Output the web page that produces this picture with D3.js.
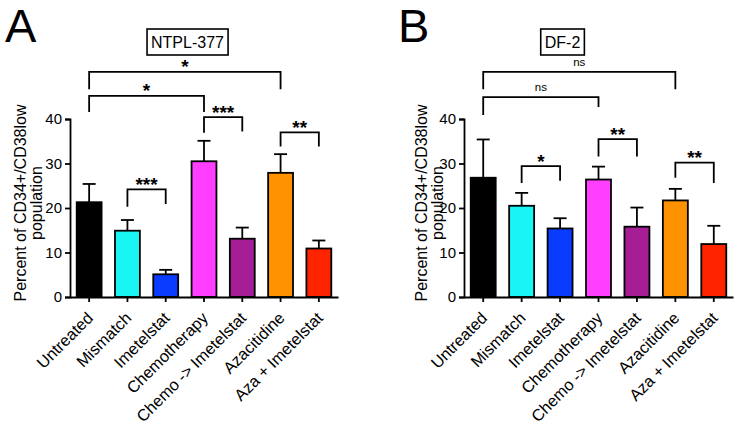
<!DOCTYPE html>
<html>
<head>
<meta charset="utf-8">
<script src="https://cdn.jsdelivr.net/npm/d3@7"></script>
<style>
  html, body { margin: 0; padding: 0; background: #fff; }
  svg { display: block; font-family: "Liberation Sans", Arial, Helvetica, sans-serif; }
</style>
</head>
<body>
<svg id="chart" width="739" height="425"></svg>
<script>
// ---------- data ----------
const categories = ["Untreated", "Mismatch", "Imetelstat", "Chemotherapy", "Chemo -> Imetelstat", "Azacitidine", "Aza + Imetelstat"];
const barColors = ["#000000", "#19F5F5", "#0A3CFF", "#FF3EFF", "#A51E96", "#FF9200", "#FF2400"];
const yTicks = [0, 10, 20, 30, 40];

const titleA = "NTPL-377";
const meanA = [21.3, 14.9, 5.1, 30.5, 13.1, 27.9, 10.9];
const errA  = [4.1, 2.4, 1.0, 4.6, 2.5, 4.2, 1.8];
// comparisons: [from index, to index, label, bracket level, left leg end, right leg end] (data units)
const compA = [
  [0, 5, "*",   50.6, 46.7, 46.7],
  [0, 3, "*",   45.2, 41.6, 41.6],
  [3, 4, "***", 40.4, 36.9, 37.2],
  [5, 6, "**",  37.0, 33.8, 33.8],
  [1, 2, "***", 24.2, 20.3, 20.9]
];

const titleB = "DF-2";
const meanB = [26.8, 20.5, 15.4, 26.4, 15.8, 21.7, 11.9];
const errB  = [8.6, 2.9, 2.3, 2.9, 4.3, 2.6, 4.1];
const compB = [
  [0, 5, "ns",  50.6, 46.7, 46.7],
  [0, 3, "ns",  44.9, 40.9, 42.7],
  [1, 2, "*",   29.4, 25.6, 26.1],
  [3, 4, "**",  35.5, 31.6, 31.6],
  [5, 6, "**",  30.2, 26.8, 25.6]
];

const yLabel1 = "Percent of CD34+/CD38low";
const yLabel2 = "population";

// ---------- drawing ----------
const svg = d3.select("#chart");

function drawPanel(p) {
  const g = svg.append("g");
  const x = d3.scaleBand().domain(categories).range([p.x0, p.x1]).paddingInner(0.35).paddingOuter(0.175);
  const y = d3.scaleLinear().domain([0, 40]).range([297, 119]);
  const data = categories.map((c, i) => ({ c, i, m: p.means[i], e: p.errs[i], col: barColors[i] }));

  // error bars (upper only)
  const eb = g.append("g").attr("stroke", "#000").attr("stroke-width", 1.8).attr("fill", "none");
  data.forEach(d => {
    const cx = x(d.c) + x.bandwidth() / 2;
    eb.append("line").attr("x1", cx).attr("x2", cx).attr("y1", y(d.m)).attr("y2", y(d.m + d.e));
    eb.append("line").attr("x1", cx - 6.5).attr("x2", cx + 6.5).attr("y1", y(d.m + d.e)).attr("y2", y(d.m + d.e));
  });

  // bars
  g.append("g").selectAll("rect").data(data).join("rect")
    .attr("x", d => x(d.c))
    .attr("y", d => y(d.m))
    .attr("width", x.bandwidth())
    .attr("height", d => y(0) - y(d.m))
    .attr("fill", d => d.col)
    .attr("stroke", "#000")
    .attr("stroke-width", 1.8);

  // y axis
  const ya = g.append("g").attr("transform", `translate(${p.x0},0)`)
    .call(d3.axisLeft(y).tickValues(yTicks).tickSize(5).tickPadding(3));
  ya.select(".domain").attr("stroke-width", 1.8);
  ya.selectAll(".tick line").attr("stroke-width", 1.8);
  ya.selectAll(".tick text").attr("font-size", 15).attr("font-family", "Liberation Sans, Arial, sans-serif").attr("fill", "#000");

  // x axis
  const xa = g.append("g").attr("transform", `translate(0,${y(0)})`)
    .call(d3.axisBottom(x).tickSize(5).tickSizeOuter(0));
  xa.select(".domain").attr("stroke-width", 1.8);
  xa.selectAll(".tick line").attr("stroke-width", 1.8);
  xa.selectAll(".tick text")
    .attr("font-size", 16.3)
    .attr("font-family", "Liberation Sans, Arial, sans-serif")
    .attr("fill", "#000")
    .attr("text-anchor", "end")
    .attr("dy", null)
    .attr("y", null)
    .attr("transform", "translate(5,22) rotate(-45)");

  // y label
  const yl = g.append("g").attr("font-size", 16).attr("text-anchor", "middle").attr("fill", "#000");
  yl.append("text").attr("transform", `translate(${p.ylx1},203) rotate(-90)`).text(yLabel1);
  yl.append("text").attr("transform", `translate(${p.ylx2},203) rotate(-90)`).text(yLabel2);

  // comparison brackets
  const bk = g.append("g");
  p.comps.forEach(([a, b, lab, lev, l1, l2]) => {
    const xa1 = x(categories[a]) + x.bandwidth() / 2;
    const xb1 = x(categories[b]) + x.bandwidth() / 2;
    bk.append("path")
      .attr("d", `M${xa1},${y(l1)}V${y(lev)}H${xb1}V${y(l2)}`)
      .attr("fill", "none").attr("stroke", "#000").attr("stroke-width", 1.8);
    const isNs = lab === "ns";
    bk.append("text")
      .attr("x", (xa1 + xb1) / 2)
      .attr("y", isNs ? y(lev) - 6 : y(lev) + 1.5)
      .attr("text-anchor", "middle")
      .attr("fill", "#000")
      .attr("font-size", isNs ? 11.5 : 19)
      .attr("font-weight", isNs ? "normal" : "bold")
      .text(lab);
  });

  // title box
  const tg = g.append("g");
  const tt = tg.append("text").attr("x", p.titleCx).attr("y", 47.5).attr("fill", "#000")
    .attr("text-anchor", "middle").attr("font-size", 16).text(p.title);
  const bb = tt.node().getBBox();
  tg.append("rect")
    .attr("x", bb.x - 4).attr("y", 29).attr("width", bb.width + 8).attr("height", 26)
    .attr("fill", "none").attr("stroke", "#000").attr("stroke-width", 1.6);

  // panel letter
  g.append("text").attr("x", p.letterX).attr("y", 42).attr("font-size", 47).attr("fill", "#000").text(p.letter);
}

drawPanel({ x0: 70, x1: 338, means: meanA, errs: errA, comps: compA, title: titleA, titleCx: 187.5,
            letter: "A", letterX: 5, ylx1: 26, ylx2: 41.5 });
drawPanel({ x0: 464, x1: 733, means: meanB, errs: errB, comps: compB, title: titleB, titleCx: 562.5,
            letter: "B", letterX: 398, ylx1: 427, ylx2: 442.5 });
</script>
</body>
</html>
